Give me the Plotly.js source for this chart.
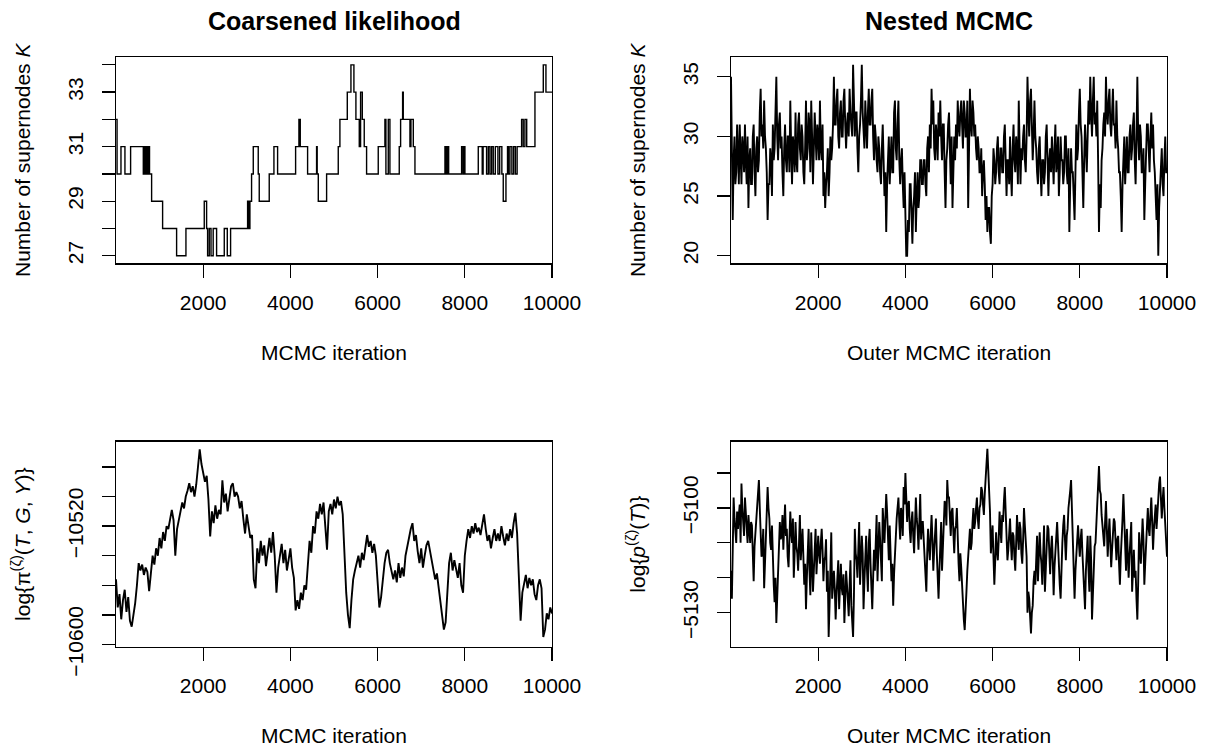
<!DOCTYPE html>
<html><head><meta charset="utf-8">
<script src="https://cdn.plot.ly/plotly-3.0.1.min.js"></script>
<style>html,body{margin:0;padding:0;background:#fff;}#chart{width:1205px;height:753px;}</style>
</head><body><div id="chart"></div>
<script>
// ---------- Data ----------
// Coarsened likelihood: number of supernodes K (step trace, change points)
const clIter = [1,25,115,206,336,627,650,665,690,715,740,770,818,1070,1391,1605,2025,2079,2102,2140,2180,2230,2308,2484,2553,2629,3019,3050,3072,3110,3149,3263,3286,3515,3623,3707,4120,4196,4205,4215,4227,4395,4601,4615,4640,4831,5098,5136,5305,5389,5457,5503,5580,5610,5649,5694,5748,6015,6168,6191,6245,6283,6497,6528,6574,6589,6742,6765,6819,6857,7545,7575,7606,7630,7927,7960,7980,8003,8309,8400,8420,8500,8540,8577,8615,8653,8700,8760,8800,8850,8882,8944,8980,9000,9035,9080,9120,9160,9200,9303,9340,9379,9420,9609,9800,9861,10000];
const clK = [32,30,31,30,31,30,31,30,31,30,31,30,29,28,27,28,29,28,27,28,27,28,27,28,27,28,29,28,29,30,31,30,29,30,31,30,31,32,31,32,31,30,31,30,29,30,31,32,33,34,33,32,31,33,32,31,30,31,32,30,32,30,31,32,33,32,31,32,31,30,31,30,31,30,31,30,31,30,31,30,31,30,31,30,31,30,31,30,31,30,29,30,31,30,31,30,31,30,31,32,31,32,31,33,34,33,33];

// Nested MCMC: number of supernodes K (evenly spaced samples, iteration 1 to 10000)
const nestK = [
35,30,23,28,30,26,27,31,29,26,31,28,26,30,29,27,31,28,26,30,
24,28,29,26,26,30,31,27,25,29,30,27,28,32,34,30,31,29,33,30,
29,27,23,26,26,29,28,25,31,28,29,32,35,30,28,31,32,29,30,27,
25,29,31,28,27,30,30,27,33,29,26,30,29,27,32,28,27,31,32,29,
28,31,30,27,26,29,33,28,29,32,31,27,33,30,26,29,32,30,28,31,
30,28,33,29,28,31,25,27,24,26,27,29,25,27,30,28,29,31,35,31,
31,33,34,30,29,32,33,30,30,33,34,31,29,31,32,30,34,32,31,30,
36,31,30,32,32,29,27,30,31,33,36,32,30,29,33,31,29,32,34,31,
31,33,34,30,28,31,30,28,27,30,29,27,26,29,31,28,25,27,22,26,
28,30,26,29,30,27,27,32,33,29,28,31,33,28,26,28,29,26,24,27,
24,20,20,23,22,26,26,23,21,24,25,27,22,25,27,24,25,28,28,26,
26,28,28,26,25,29,30,27,31,29,34,31,33,29,28,31,30,28,32,30,
33,30,28,31,31,27,24,28,29,31,32,29,26,30,24,27,30,28,31,29,
33,31,30,32,33,31,29,33,32,30,30,33,24,29,34,31,30,33,32,30,
31,29,28,30,29,27,27,29,25,27,28,26,23,25,22,24,24,22,21,25,
26,29,28,26,27,29,30,27,26,29,29,27,27,30,31,28,25,28,28,26,
30,27,25,29,31,28,27,30,29,26,33,29,26,29,28,30,31,28,27,30,
35,32,30,33,34,31,28,30,33,30,29,27,26,29,30,27,25,28,28,26,
27,30,31,28,25,28,29,27,30,28,26,29,31,27,28,30,25,27,30,28,
28,26,27,30,30,27,26,29,22,26,29,27,27,25,23,27,31,28,29,32,
34,31,30,27,24,28,31,29,27,30,33,31,35,32,30,33,35,31,32,30,
33,28,22,26,24,28,29,31,32,30,35,32,31,33,34,31,30,32,34,31,
31,29,33,30,29,27,27,25,22,26,28,30,26,29,30,27,27,30,31,28,
29,31,32,28,26,30,35,30,28,31,30,27,27,29,23,26,29,31,31,28,
27,30,32,29,31,28,27,25,23,26,20,24,26,28,29,26,25,28,30,27,
27];

// Coarsened likelihood: log pi^(zeta)(T, G, Y) (evenly spaced samples)
const clLogPost = [
-10556,-10575,-10566,-10583,-10570,-10563,-10578,-10568,-10584,-10588,
-10580,-10572,-10560,-10545,-10550,-10546,-10553,-10548,-10551,-10564,
-10552,-10540,-10546,-10535,-10540,-10528,-10535,-10524,-10530,-10520,
-10522,-10514,-10509,-10516,-10540,-10522,-10515,-10510,-10504,-10508,
-10500,-10496,-10491,-10497,-10493,-10500,-10492,-10480,-10468,-10478,
-10483,-10490,-10486,-10502,-10527,-10510,-10518,-10506,-10515,-10509,
-10512,-10489,-10504,-10498,-10510,-10500,-10493,-10491,-10500,-10497,
-10500,-10508,-10503,-10515,-10525,-10512,-10520,-10528,-10526,-10556,
-10562,-10535,-10545,-10530,-10540,-10533,-10547,-10535,-10528,-10538,
-10524,-10540,-10565,-10548,-10540,-10532,-10545,-10536,-10550,-10542,
-10535,-10548,-10555,-10577,-10570,-10576,-10565,-10570,-10560,-10563,
-10545,-10530,-10538,-10520,-10525,-10510,-10515,-10505,-10512,-10504,
-10520,-10536,-10510,-10505,-10512,-10502,-10508,-10500,-10506,-10503,
-10512,-10540,-10565,-10580,-10589,-10570,-10556,-10550,-10545,-10540,
-10548,-10538,-10543,-10533,-10526,-10534,-10530,-10538,-10532,-10540,
-10560,-10575,-10568,-10555,-10545,-10538,-10536,-10545,-10550,-10556,
-10550,-10558,-10545,-10555,-10548,-10554,-10540,-10535,-10528,-10522,
-10518,-10530,-10526,-10537,-10545,-10535,-10548,-10540,-10533,-10530,
-10536,-10542,-10550,-10556,-10552,-10562,-10570,-10580,-10590,-10585,
-10568,-10545,-10538,-10550,-10543,-10548,-10555,-10545,-10560,-10565,
-10540,-10530,-10522,-10528,-10520,-10525,-10518,-10524,-10521,-10526,
-10520,-10512,-10522,-10530,-10526,-10535,-10528,-10522,-10530,-10525,
-10530,-10520,-10527,-10533,-10525,-10530,-10522,-10528,-10518,-10511,
-10525,-10556,-10584,-10565,-10560,-10553,-10562,-10555,-10560,-10556,
-10566,-10570,-10560,-10556,-10562,-10595,-10590,-10579,-10583,-10575,
-10579];

// Nested MCMC: log p^(zeta)(T) (evenly spaced samples)
const nestLogP = [
-5118,-5126,-5112,-5097,-5103,-5108,-5110,-5101,-5106,-5102,-5099,-5110,-5093,-5100,-5104,-5108,-5097,-5103,-5106,-5110,
-5102,-5108,-5110,-5104,-5105,-5113,-5121,-5111,-5107,-5101,-5100,-5096,-5092,-5100,-5108,-5114,-5112,-5106,-5123,-5115,
-5110,-5103,-5094,-5100,-5103,-5110,-5112,-5105,-5118,-5122,-5127,-5120,-5133,-5124,-5115,-5110,-5104,-5109,-5108,-5102,
-5112,-5105,-5099,-5108,-5106,-5114,-5117,-5109,-5101,-5107,-5110,-5103,-5120,-5113,-5104,-5111,-5113,-5118,-5108,-5102,
-5115,-5109,-5106,-5114,-5122,-5116,-5129,-5120,-5110,-5106,-5118,-5125,-5107,-5113,-5124,-5118,-5112,-5106,-5119,-5114,
-5108,-5113,-5116,-5110,-5106,-5112,-5121,-5115,-5114,-5109,-5124,-5118,-5137,-5128,-5112,-5107,-5126,-5120,-5118,-5123,
-5132,-5125,-5120,-5115,-5129,-5122,-5116,-5123,-5125,-5119,-5133,-5126,-5118,-5122,-5127,-5131,-5122,-5115,-5128,-5133,
-5137,-5125,-5106,-5113,-5115,-5120,-5110,-5104,-5122,-5116,-5108,-5113,-5129,-5121,-5113,-5108,-5118,-5124,-5110,-5106,
-5116,-5122,-5129,-5120,-5112,-5118,-5108,-5102,-5121,-5114,-5104,-5109,-5115,-5121,-5100,-5106,-5110,-5103,-5096,-5101,
-5110,-5115,-5105,-5112,-5121,-5116,-5128,-5119,-5112,-5106,-5103,-5100,-5097,-5104,-5109,-5100,-5102,-5108,-5094,-5099,
-5090,-5097,-5104,-5099,-5098,-5106,-5110,-5104,-5101,-5108,-5113,-5105,-5097,-5103,-5106,-5112,-5100,-5096,-5109,-5104,
-5104,-5109,-5112,-5118,-5124,-5113,-5106,-5111,-5115,-5108,-5102,-5109,-5118,-5112,-5108,-5103,-5113,-5119,-5126,-5118,
-5110,-5104,-5118,-5110,-5104,-5098,-5099,-5105,-5092,-5097,-5097,-5106,-5108,-5101,-5100,-5107,-5113,-5106,-5105,-5100,
-5111,-5116,-5121,-5113,-5117,-5124,-5128,-5132,-5135,-5127,-5124,-5118,-5113,-5109,-5106,-5112,-5110,-5104,-5100,-5106,
-5104,-5100,-5097,-5103,-5106,-5100,-5099,-5094,-5095,-5099,-5102,-5096,-5091,-5088,-5083,-5089,-5094,-5101,-5113,-5108,
-5105,-5114,-5122,-5115,-5107,-5112,-5115,-5109,-5101,-5106,-5110,-5102,-5104,-5098,-5094,-5101,-5108,-5115,-5112,-5106,
-5103,-5110,-5115,-5107,-5108,-5114,-5118,-5110,-5102,-5108,-5112,-5104,-5106,-5113,-5116,-5109,-5100,-5105,-5109,-5114,
-5130,-5124,-5126,-5133,-5136,-5130,-5128,-5121,-5118,-5122,-5112,-5108,-5121,-5114,-5107,-5113,-5116,-5122,-5110,-5105,
-5124,-5116,-5111,-5105,-5106,-5113,-5119,-5112,-5108,-5115,-5125,-5117,-5113,-5108,-5104,-5110,-5118,-5122,-5126,-5115,
-5110,-5105,-5102,-5109,-5115,-5108,-5106,-5100,-5098,-5095,-5092,-5101,-5108,-5116,-5126,-5118,-5112,-5108,-5105,-5110,
-5114,-5109,-5106,-5113,-5120,-5124,-5129,-5118,-5112,-5108,-5118,-5124,-5108,-5115,-5132,-5124,-5116,-5111,-5110,-5104,
-5100,-5094,-5088,-5095,-5096,-5102,-5105,-5110,-5111,-5104,-5098,-5106,-5114,-5108,-5103,-5110,-5117,-5112,-5108,-5103,
-5104,-5110,-5115,-5109,-5108,-5116,-5122,-5114,-5110,-5103,-5096,-5104,-5113,-5118,-5106,-5112,-5120,-5114,-5109,-5104,
-5124,-5118,-5112,-5120,-5118,-5126,-5132,-5121,-5107,-5112,-5116,-5110,-5103,-5109,-5122,-5116,-5110,-5104,-5100,-5106,
-5108,-5102,-5097,-5104,-5112,-5106,-5102,-5099,-5106,-5100,-5098,-5093,-5091,-5096,-5103,-5098,-5094,-5100,-5105,-5109,
-5114];

// Axis ticks and labels (labelled ticks + unlabelled ticks, as in the original)
const xTicks = [2000, 4000, 6000, 8000, 10000];
const xTickText = ['2000', '4000', '6000', '8000', '10000'];
const yTicksTL = [27, 29, 31, 33];
const yTextTL = ['27', '29', '31', '33'];
const yMinorTL = [28, 30, 32, 34];
const yTicksTR = [20, 25, 30, 35];
const yTextTR = ['20', '25', '30', '35'];
const yMinorTR = [];
const yTicksBL = [-10600, -10520];
const yTextBL = ['\u221210600', '\u221210520'];
const yMinorBL = [-10580, -10560, -10540, -10500, -10480];
const yTicksBR = [-5130, -5100];
const yTextBR = ['\u22125130', '\u22125100'];
const yMinorBR = [-5120, -5110, -5090];

// ---------- Layout ----------
const W = 1205, H = 753;
const px = v => v / W, py = v => 1 - v / H;
const FAM = '"Liberation Sans", Arial, Helvetica, sans-serif';
const baseFont = {family: FAM, size: 21, color: '#000'};
const nIter = 10000;
const TICKLEN = 13, TICKW = 1.3;

function xax(dom, anchor, title) {
  return {domain: dom, anchor: anchor, range: [1, nIter], tickmode: 'array', tickvals: xTicks, ticktext: xTickText,
    ticks: 'outside', ticklen: TICKLEN, tickwidth: TICKW, tickcolor: '#000', showline: true, linecolor: '#000', linewidth: 1.3,
    mirror: true, showgrid: false, zeroline: false, tickfont: baseFont, ticklabelstandoff: 7, fixedrange: true,
    title: {text: title, font: {family: FAM, size: 21, color: '#000'}, standoff: 32}, automargin: false};
}
function yax(dom, anchor, range, tv, tt, minorVals, title) {
  const a = {domain: dom, anchor: anchor, range: range, tickmode: 'array', tickvals: tv, ticktext: tt, tickangle: -90,
    ticks: 'outside', ticklen: TICKLEN, tickwidth: TICKW, tickcolor: '#000', showline: true, linecolor: '#000', linewidth: 1.3,
    mirror: true, showgrid: false, zeroline: false, tickfont: baseFont, ticklabelstandoff: 10, fixedrange: true,
    title: {text: title, font: {family: FAM, size: 21, color: '#000'}, standoff: 28}, automargin: false};
  if (minorVals.length) {
    a.minor = {tickmode: 'array', tickvals: minorVals, ticks: 'outside', ticklen: TICKLEN, tickwidth: TICKW, tickcolor: '#000', showgrid: false};
  }
  return a;
}
const LX = [px(116), px(552)], RX = [px(731), px(1167)];
const TY = [py(263.4), py(57.2)], BY = [py(646.8), py(441.7)];

const traces = [
  {x: clIter, y: clK, type: 'scatter', mode: 'lines', line: {color: '#000', width: 1.4, shape: 'hv'}, xaxis: 'x', yaxis: 'y', hoverinfo: 'skip'},
  {y: nestK, x0: 1, dx: (nIter - 1) / (nestK.length - 1), type: 'scatter', mode: 'lines', line: {color: '#000', width: 1.9}, xaxis: 'x2', yaxis: 'y2', hoverinfo: 'skip'},
  {y: clLogPost, x0: 1, dx: (nIter - 1) / (clLogPost.length - 1), type: 'scatter', mode: 'lines', line: {color: '#000', width: 1.9}, xaxis: 'x3', yaxis: 'y3', hoverinfo: 'skip'},
  {y: nestLogP, x0: 1, dx: (nIter - 1) / (nestLogP.length - 1), type: 'scatter', mode: 'lines', line: {color: '#000', width: 1.9}, xaxis: 'x4', yaxis: 'y4', hoverinfo: 'skip'}
];

function ann(text, x, y, size) {
  return {text: text, x: px(x), y: py(y), xref: 'paper', yref: 'paper', xanchor: 'center', yanchor: 'middle',
    showarrow: false, font: {family: FAM, size: size, color: '#000'}};
}

const yTitleK = 'Number of supernodes <i>K</i>';
const yTitleCL = 'log{\u03c0<sup>(\u03b6)</sup>(<i>T</i>, <i>G</i>, <i>Y</i>)}';
const yTitleNest = 'log{<i>p</i><sup>(\u03b6)</sup>(<i>T</i>)}';
const xTitleCL = 'MCMC iteration';
const xTitleNest = 'Outer MCMC iteration';

const layout = {
  width: W, height: H, margin: {l: 0, r: 0, t: 0, b: 0}, paper_bgcolor: '#fff', plot_bgcolor: '#fff',
  showlegend: false, font: baseFont,
  xaxis: xax(LX, 'y', xTitleCL), yaxis: yax(TY, 'x', [26.72, 34.28], yTicksTL, yTextTL, yMinorTL, yTitleK),
  xaxis2: xax(RX, 'y2', xTitleNest), yaxis2: yax(TY, 'x2', [19.36, 36.64], yTicksTR, yTextTR, yMinorTR, yTitleK),
  xaxis3: xax(LX, 'y3', xTitleCL), yaxis3: yax(BY, 'x3', [-10601.6, -10462.9], yTicksBL, yTextBL, yMinorBL, yTitleCL),
  xaxis4: xax(RX, 'y4', xTitleNest), yaxis4: yax(BY, 'x4', [-5139.8, -5081.0], yTicksBR, yTextBR, yMinorBR, yTitleNest),
  annotations: [
    ann('<b>Coarsened likelihood</b>', 334, 21.5, 25),
    ann('<b>Nested MCMC</b>', 949, 21.5, 25)
  ]
};

Plotly.newPlot('chart', traces, layout, {staticPlot: true, displayModeBar: false});
</script>
</body></html>
